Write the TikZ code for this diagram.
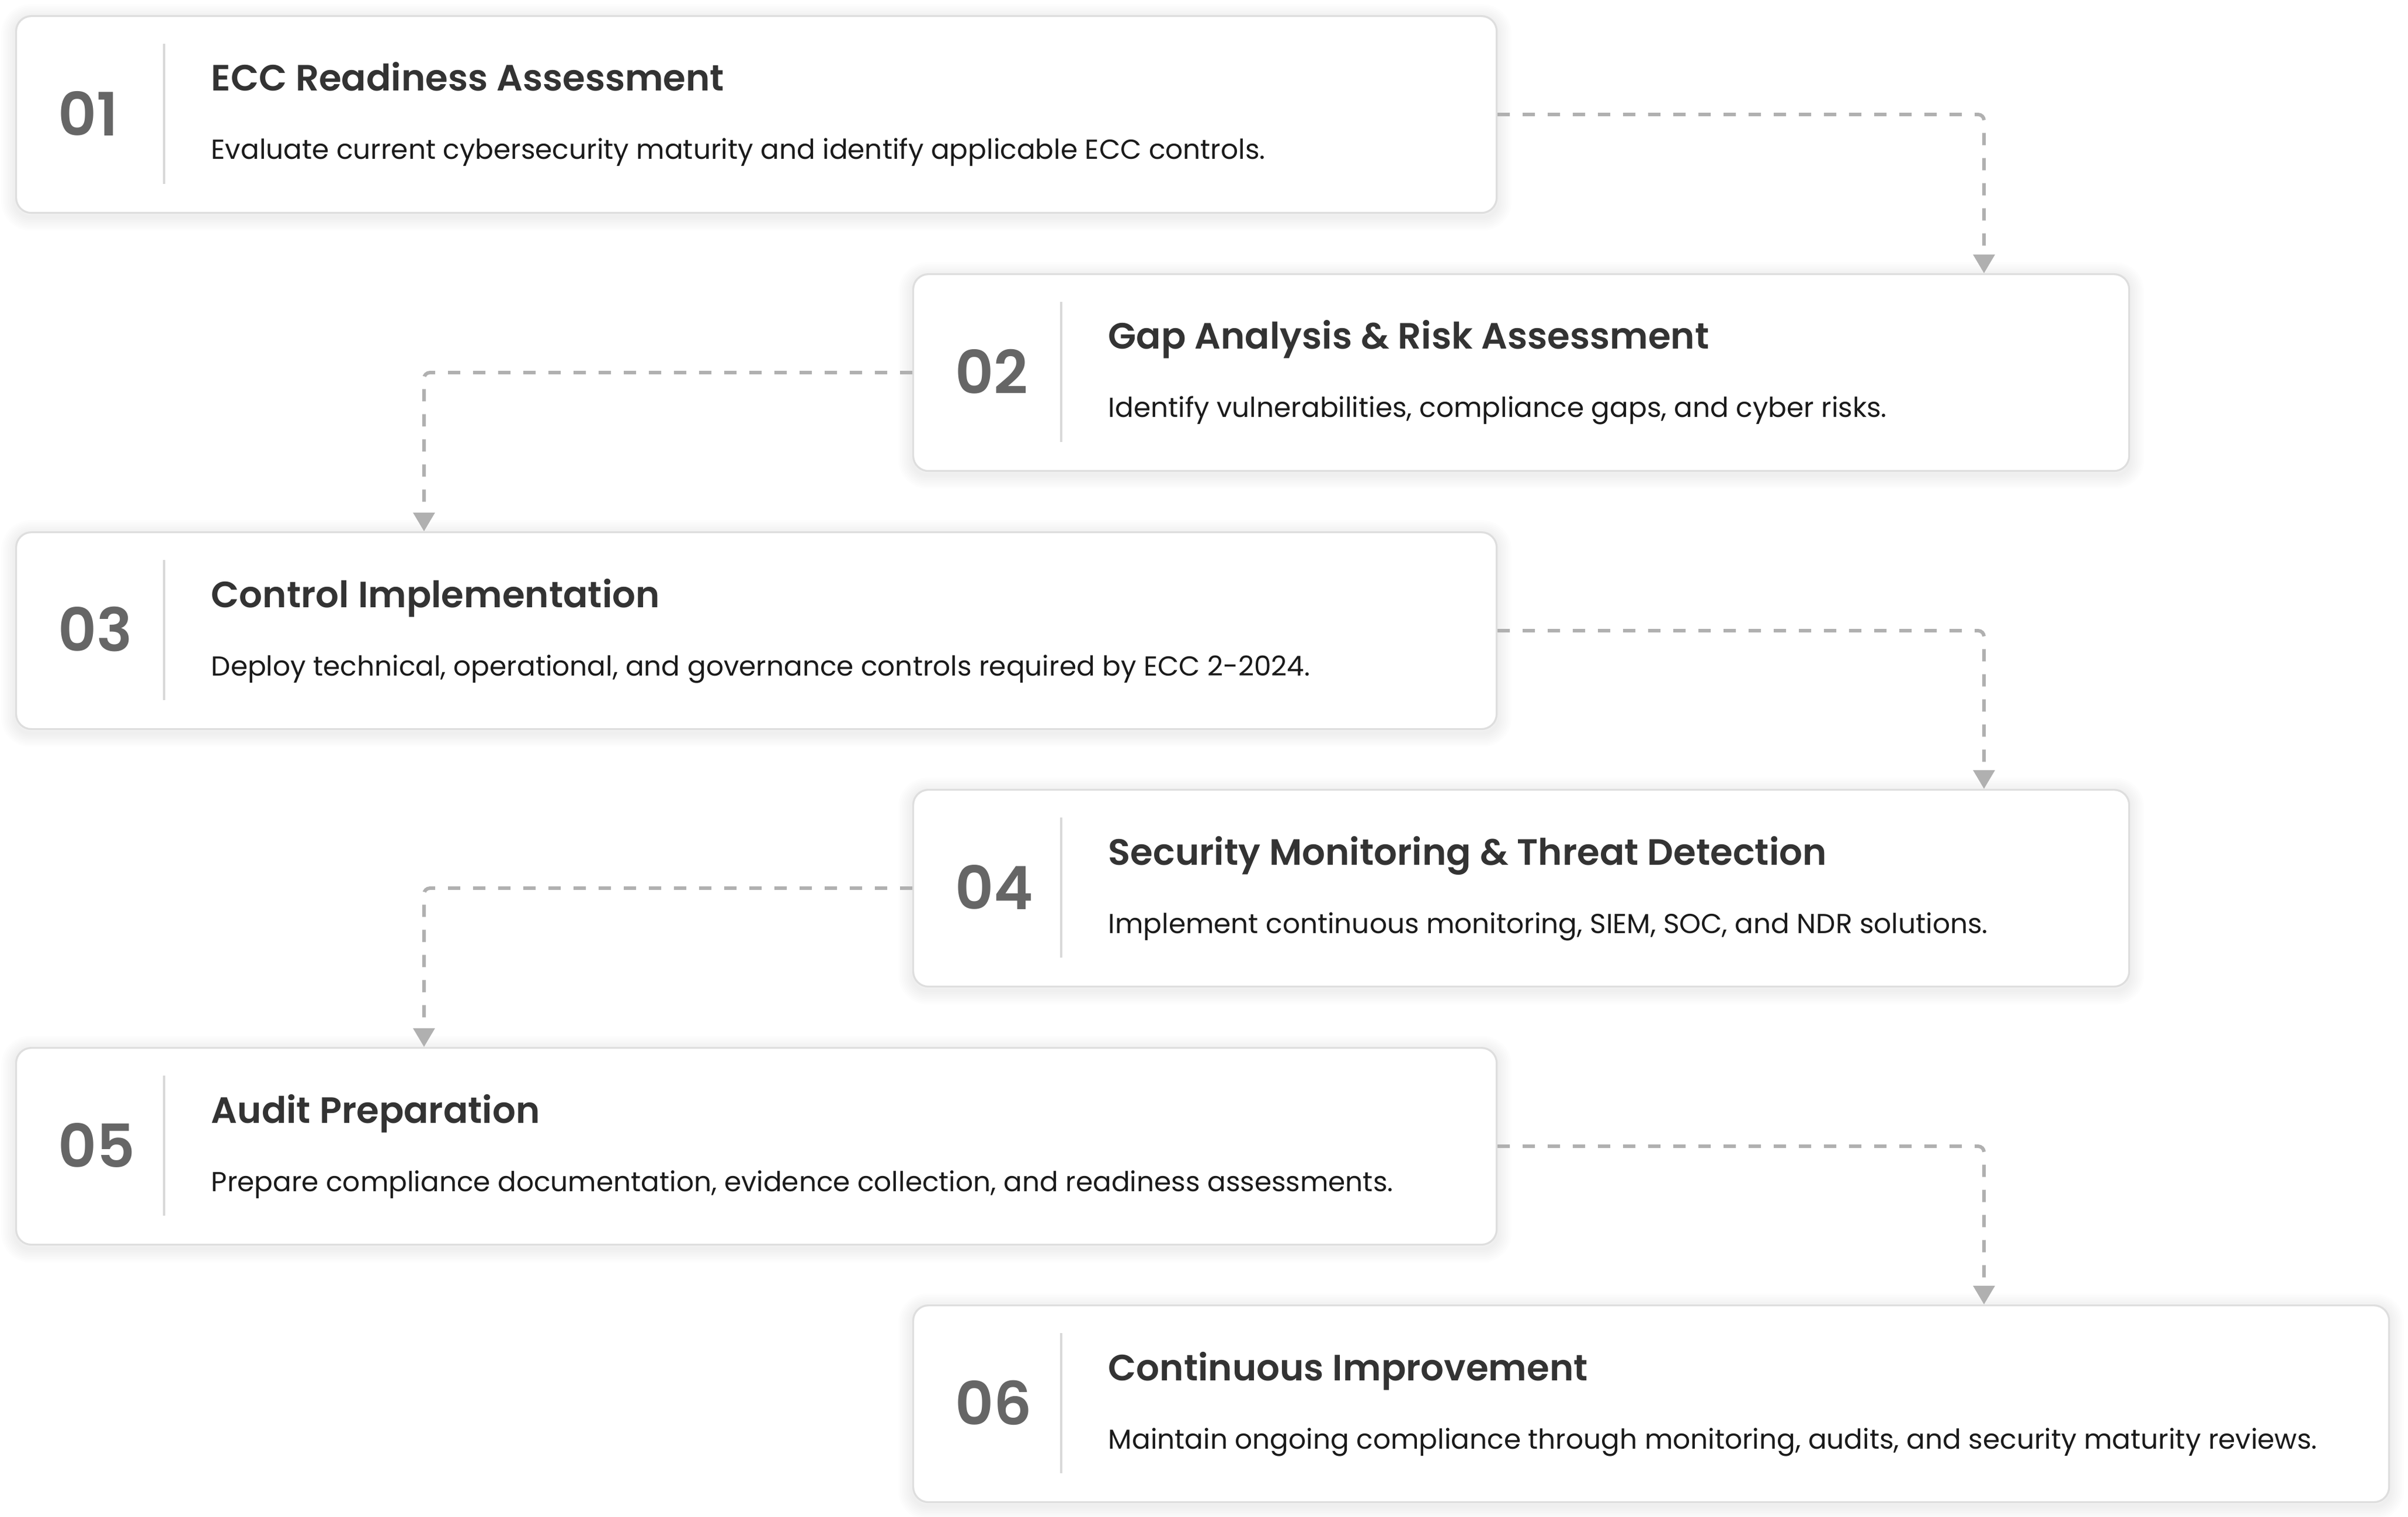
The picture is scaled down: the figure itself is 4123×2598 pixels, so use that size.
\documentclass[tikz,border=0pt]{standalone}
\usepackage{fontspec}
\setmainfont{Poppins}[BoldFont={Poppins SemiBold}]
\usetikzlibrary{arrows.meta,calc,backgrounds}
\definecolor{numgray}{HTML}{666666}
\definecolor{ttlgray}{HTML}{333333}
\definecolor{dscgray}{HTML}{1A1A1A}
\definecolor{boxline}{HTML}{DEDEDE}
\definecolor{sepline}{HTML}{D9D9D9}
\definecolor{connline}{HTML}{B0B0B0}
\begin{document}
\begin{tikzpicture}[x=0.25pt,y=-0.25pt,
  box/.style={draw=boxline, line width=0.8pt, fill=white, rounded corners=6.5pt,
    minimum height=84.25pt, inner sep=0pt, anchor=north west},
  widebox/.style={box, minimum width=633.75pt},
  narrowbox/.style={box, minimum width=520.5pt},
  lastbox/.style={box, minimum width=631.75pt},
  halo/.style={draw=black, draw opacity=0.007, rounded corners=6.5pt},
  num/.style={inner sep=0pt, anchor=west, text=numgray, font=\fontsize{25.6}{30}\selectfont\bfseries},
  ttl/.style={inner sep=0pt, anchor=base west, text=ttlgray, font=\fontsize{15.65}{19}\selectfont\bfseries},
  dsc/.style={inner sep=0pt, anchor=base west, text=dscgray, font=\fontsize{11.75}{14}\selectfont},
  sep/.style={draw=sepline, line width=1pt},
  conn/.style={draw=connline, line width=1.5pt, dash pattern=on 5.25pt off 5.5pt,
    rounded corners=2.5pt, -{Triangle[length=8pt,width=9pt]}}
]
\useasboundingbox (0,0) rectangle (4123,2598);

% boxes
\node[widebox]  (b1) at (26,26) {};
\node[narrowbox](b2) at (1562,468) {};
\node[widebox]  (b3) at (26,910) {};
\node[narrowbox](b4) at (1562,1351) {};
\node[widebox]  (b5) at (26,1793) {};
\node[lastbox]  (b6) at (1562,2234) {};

% page background and soft shadows
\begin{scope}[on background layer]
  \fill[white] (0,0) rectangle (4123,2598);
  \foreach \b in {b1,b2,b3,b4,b5,b6}{
    \foreach \w in {1.5,3,4.5,6,7.5,9,10.5,12}{
      \draw[halo, line width=\w pt] ($(\b.north west)+(0,5)$) rectangle ($(\b.south east)+(0,5)$);
    }
  }
\end{scope}

% contents
\foreach \b/\n/\t/\d in {
  b1/01/{ECC Readiness Assessment}/{Evaluate current cybersecurity maturity and identify applicable ECC controls.},
  b2/02/{Gap Analysis \& Risk Assessment}/{Identify vulnerabilities, compliance gaps, and cyber risks.},
  b3/03/{Control Implementation}/{Deploy technical, operational, and governance controls required by ECC 2-2024.},
  b4/04/{Security Monitoring \& Threat Detection}/{Implement continuous monitoring, SIEM, SOC, and NDR solutions.},
  b5/05/{Audit Preparation}/{Prepare compliance documentation, evidence collection, and readiness assessments.},
  b6/06/{Continuous Improvement}/{Maintain ongoing compliance through monitoring, audits, and security maturity reviews.}}{
  \node[num] (\b n) at ($(\b.north west)+(73,168)$) {\n};
  \draw[sep] ($(\b.north west)+(255,49)$) -- ($(\b.north west)+(255,289)$);
  \node[ttl] (\b t) at ($(\b.north west)+(335,130)$) {\t};
  \node[dsc] (\b d) at ($(\b.north west)+(335,247)$) {\d};
}

% connector columns
\coordinate (rc) at (3397,0);
\coordinate (lc) at (726,0);

\draw[conn] (b1.east) -| (b2.north -| rc);
\draw[conn] (b2.west) -| (b3.north -| lc);
\draw[conn] (b3.east) -| (b4.north -| rc);
\draw[conn] (b4.west) -| (b5.north -| lc);
\draw[conn] (b5.east) -| (b6.north -| rc);
\end{tikzpicture}
\end{document}
